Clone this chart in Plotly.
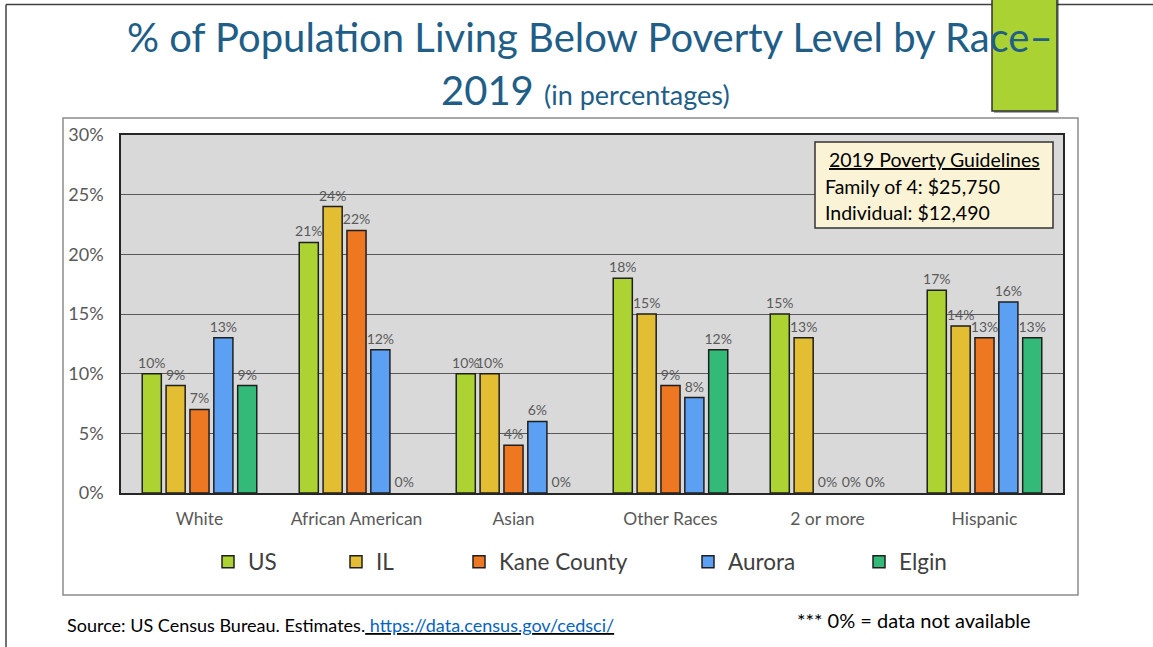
import plotly.graph_objects as go

categories = ["White", "African American", "Asian", "Other Races", "2 or more", "Hispanic"]
us = [10, 21, 10, 18, 15, 17]
il = [9, 24, 10, 15, 13, 14]
kane = [7, 22, 4, 9, 0, 13]
aurora = [13, 12, 6, 8, 0, 16]
elgin = [9, 0, 0, 12, 0, 13]

series_names = ["US", "IL", "Kane County", "Aurora", "Elgin"]
series_values = [us, il, kane, aurora, elgin]
series_colors = ["#ADD333", "#E3BE33", "#EE7722", "#5BA0F2", "#33BA78"]

FONT = "Lato"
W, H = 1153, 647
L, R, T, B = 121, 1063, 135, 493


def px(x):
    return (x - L) / (R - L)


def py(y):
    return (B - y) / (B - T)


legend_ids = ["legend", "legend2", "legend3", "legend4", "legend5"]
legend_text_x = [250, 378, 501, 730, 901]

fig = go.Figure()
for name, vals, col, lid in zip(series_names, series_values, series_colors, legend_ids):
    fig.add_trace(go.Bar(
        x=categories, y=vals, name=name, legend=lid,
        marker=dict(color=col, line=dict(color="#1f1f1f", width=[1.5 if v > 0 else 0 for v in vals])),
        text=[f"{v}%" for v in vals], textposition="outside", constraintext="none",
        textfont=dict(family=FONT, size=14, color="#595959"),
        cliponaxis=False,
    ))

shapes = [
    # slide border
    dict(type="line", xref="paper", yref="paper", x0=px(6), x1=px(1153), y0=py(4.5), y1=py(4.5),
         line=dict(color="#404040", width=1.5)),
    dict(type="line", xref="paper", yref="paper", x0=px(6), x1=px(6), y0=py(4.5), y1=py(650),
         line=dict(color="#404040", width=1.5)),
    # chart border
    dict(type="rect", xref="paper", yref="paper", x0=px(63), x1=px(1078), y0=py(118), y1=py(595),
         line=dict(color="#8C8C8C", width=1.5), fillcolor="rgba(0,0,0,0)"),
    # green rect shadow + rect
    dict(type="rect", xref="paper", yref="paper", x0=px(994), x1=px(1059), y0=py(-2), y1=py(113),
         line=dict(width=0), fillcolor="rgba(0,0,0,0.35)"),
    dict(type="rect", xref="paper", yref="paper", x0=px(992), x1=px(1057), y0=py(-2), y1=py(111),
         line=dict(color="#333333", width=1.5), fillcolor="#A9D232"),
    # guideline box
    dict(type="rect", xref="paper", yref="paper", x0=px(815), x1=px(1053), y0=py(142), y1=py(228),
         line=dict(color="#333333", width=1.5), fillcolor="#FBF3D6"),
]

annotations = [
    dict(text="% of Population Living Below Poverty Level by Race–", x=px(590), y=py(37),
         xref="paper", yref="paper", showarrow=False, xanchor="center", yanchor="middle",
         font=dict(family=FONT, size=40, color="#215E87")),
    dict(text="2019 <span style='font-size:27px'>(in percentages)</span>", x=px(585), y=py(90),
         xref="paper", yref="paper", showarrow=False, xanchor="center", yanchor="middle",
         font=dict(family=FONT, size=40, color="#215E87")),
    dict(text="<u>2019 Poverty Guidelines</u>", x=px(934), y=py(160),
         xref="paper", yref="paper", showarrow=False, xanchor="center", yanchor="middle",
         font=dict(family=FONT, size=19.5, color="#000000")),
    dict(text="Family of 4: $25,750", x=px(823), y=py(186),
         xref="paper", yref="paper", showarrow=False, xanchor="left", yanchor="middle",
         font=dict(family=FONT, size=19.5, color="#000000")),
    dict(text="Individual: $12,490", x=px(823), y=py(212),
         xref="paper", yref="paper", showarrow=False, xanchor="left", yanchor="middle",
         font=dict(family=FONT, size=19.5, color="#000000")),
    dict(text="Source: US Census Bureau. Estimates.<u><span style='color:#0563C1'> https://data.census.gov/cedsci/</span></u>",
         x=px(65), y=py(625), xref="paper", yref="paper", showarrow=False, xanchor="left", yanchor="middle",
         font=dict(family=FONT, size=18, color="#000000")),
    dict(text="*** 0% = data not available", x=px(795), y=py(620),
         xref="paper", yref="paper", showarrow=False, xanchor="left", yanchor="middle",
         font=dict(family=FONT, size=20, color="#000000")),
]

legend_common = dict(orientation="h", yanchor="middle", xanchor="left", y=py(562),
                     font=dict(family=FONT, size=22.5, color="#404040"), bgcolor="rgba(0,0,0,0)",
                     itemwidth=30)
legends = {}
for lid, tx in zip(legend_ids, legend_text_x):
    legends[lid] = dict(legend_common, x=px(tx - 42))

fig.update_layout(
    width=W, height=H,
    margin=dict(l=L, r=W - R, t=T, b=H - B),
    paper_bgcolor="white", plot_bgcolor="#D9D9D9",
    barmode="group", bargap=0.24, bargroupgap=0.2,
    font=dict(family=FONT, color="#595959"),
    shapes=shapes, annotations=annotations,
    showlegend=True,
    xaxis=dict(showgrid=False, showline=True, mirror=True, linecolor="#262626", linewidth=1.5,
               tickfont=dict(family=FONT, size=17.5, color="#595959"), ticks="", ticklabelstandoff=9,
               fixedrange=True),
    yaxis=dict(range=[0, 30], dtick=5, ticksuffix="%", showgrid=True, gridcolor="#595959", gridwidth=1,
               showline=True, mirror=True, linecolor="#262626", linewidth=1.5, zeroline=False,
               tickfont=dict(family=FONT, size=18, color="#595959"), ticks="", ticklabelstandoff=12,
               fixedrange=True),
    **legends,
)

fig.write_html("out.html", config={"displayModeBar": False},
               post_script="document.body.style.margin='0px';")
